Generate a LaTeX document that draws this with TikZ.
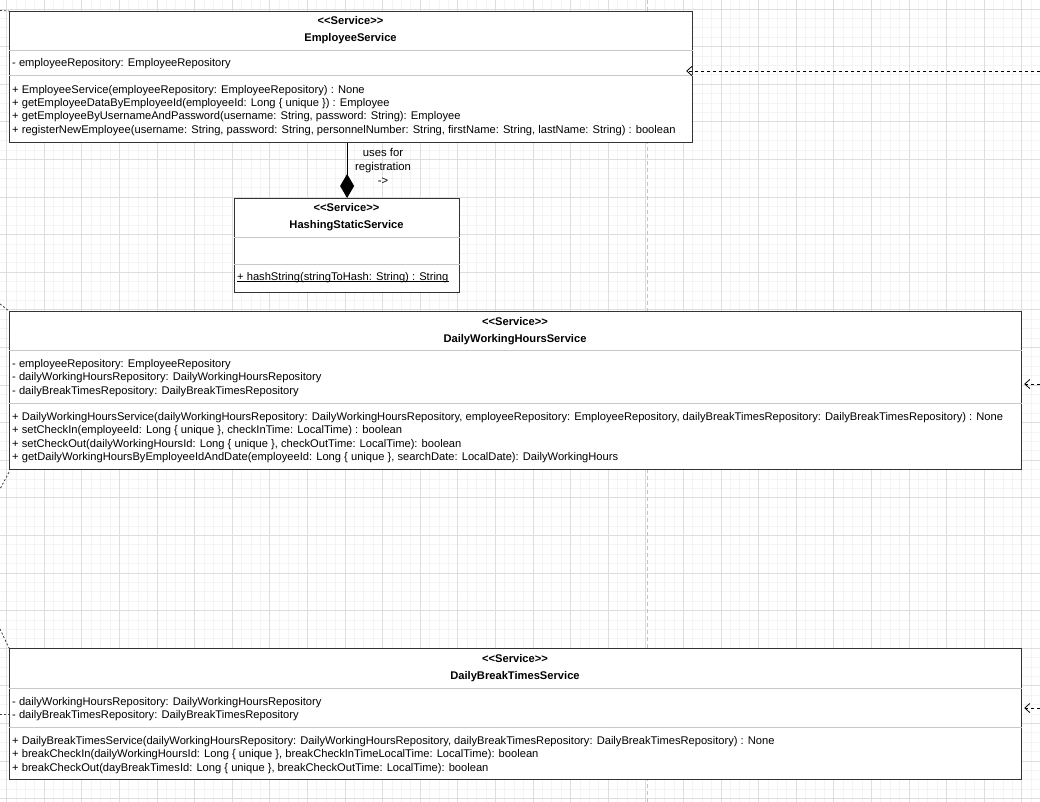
\documentclass[tikz,border=0pt]{standalone}
\usepackage{fontspec}
\setmainfont{Liberation Sans}
\usetikzlibrary{calc, positioning, arrows.meta}

\definecolor{gridmin}{HTML}{F4F4F4}
\definecolor{gridmaj}{HTML}{DEDEDE}
\definecolor{boxline}{HTML}{333333}
\definecolor{sepline}{HTML}{C8C8C8}
\definecolor{pagebrk}{HTML}{C4C4C4}

\newcommand{\stereo}{{<}{<}Service{>}{>}}

\tikzset{
  classbox/.style={draw=boxline, line width=1.2pt, fill=white, inner sep=0pt, anchor=north west},
  sep/.style={draw=sepline, line width=1pt},
  member/.style={anchor=base west, inner sep=0pt, font=\fontsize{11.15}{13}\selectfont},
  title/.style={anchor=base, inner sep=0pt, font=\fontsize{11.15}{13}\selectfont\bfseries},
  dep/.style={dash pattern=on 3pt off 3pt, line width=0.8pt, -{Straight Barb[length=5pt,width=9pt]}},
  stub/.style={dash pattern=on 2pt off 2pt, line width=0.8pt, black!75},
  comp/.style={line width=1pt, {Diamond[length=24pt,width=14pt]}-},
}

\begin{document}
\begin{tikzpicture}[x=1pt,y=-1pt]
\useasboundingbox (0,0) rectangle (1040,802);
\fill[white] (0,0) rectangle (1040,802);

% grid
\foreach \i in {0,...,109} \draw[gridmin,line width=0.7pt] ({6.5+\i*9.4},0) -- ({6.5+\i*9.4},802);
\foreach \i in {1,...,85} \draw[gridmin,line width=0.7pt] (0,{-0.4+\i*9.4}) -- (1040,{-0.4+\i*9.4});
\foreach \i in {0,...,27} \draw[gridmaj,line width=0.8pt] ({6.5+\i*37.6},0) -- ({6.5+\i*37.6},802);
\foreach \i in {0,...,21} \draw[gridmaj,line width=0.8pt] (0,{9+\i*37.6}) -- (1040,{9+\i*37.6});
\draw[pagebrk, line width=1pt, dash pattern=on 4pt off 3pt] (647,0) -- (647,802);

% EmployeeService
\node[classbox, minimum width=683pt, minimum height=131pt] (emp) at (9,11) {};
\draw[sep] (emp.west |- 0,50.5) -- (emp.east |- 0,50.5);
\draw[sep] (emp.west |- 0,76) -- (emp.east |- 0,76);
\node[title] (emp-st) at (350.5,25) {\stereo};
\node[title] (emp-nm) at (350.5,42) {EmployeeService};
\node[member] (emp-a1) at (12,67) {- employeeRepository: EmployeeRepository};
\node[member] (emp-m1) at (12,93.3) {+ EmployeeService(employeeRepository: EmployeeRepository) : None};
\node[member] (emp-m2) at (12,106.6) {+ getEmployeeDataByEmployeeId(employeeId: Long \{ unique \}) : Employee};
\node[member] (emp-m3) at (12,119.9) {+ getEmployeeByUsernameAndPassword(username: String, password: String): Employee};
\node[member] (emp-m4) at (12,133.2) {+ registerNewEmployee(username: String, password: String, personnelNumber: String, firstName: String, lastName: String) : boolean};

% HashingStaticService
\node[classbox, minimum width=225pt, minimum height=94pt] (hash) at (234,198) {};
\draw[sep] (hash.west |- 0,237) -- (hash.east |- 0,237);
\draw[sep] (hash.west |- 0,264) -- (hash.east |- 0,264);
\node[title] (hash-st) at (346.5,212) {\stereo};
\node[title] (hash-nm) at (346.5,229) {HashingStaticService};
\node[member] (hash-m1) at (237,280) {+ hashString(stringToHash: String) : String};
\draw[line width=0.7pt] ([yshift=-1.6pt]hash-m1.base west) -- ([yshift=-1.6pt]hash-m1.base east);

% DailyWorkingHoursService
\node[classbox, minimum width=1012pt, minimum height=158pt] (dwh) at (9,311) {};
\draw[sep] (dwh.west |- 0,350) -- (dwh.east |- 0,350);
\draw[sep] (dwh.west |- 0,403) -- (dwh.east |- 0,403);
\node[title] (dwh-st) at (515,325) {\stereo};
\node[title] (dwh-nm) at (515,342) {DailyWorkingHoursService};
\node[member] (dwh-a1) at (12,367) {- employeeRepository: EmployeeRepository};
\node[member] (dwh-a2) at (12,380.5) {- dailyWorkingHoursRepository: DailyWorkingHoursRepository};
\node[member] (dwh-a3) at (12,394) {- dailyBreakTimesRepository: DailyBreakTimesRepository};
\node[member] (dwh-m1) at (12,420) {+ DailyWorkingHoursService(dailyWorkingHoursRepository: DailyWorkingHoursRepository, employeeRepository: EmployeeRepository, dailyBreakTimesRepository: DailyBreakTimesRepository) : None};
\node[member] (dwh-m2) at (12,433.5) {+ setCheckIn(employeeId: Long \{ unique \}, checkInTime: LocalTime) : boolean};
\node[member] (dwh-m3) at (12,447) {+ setCheckOut(dailyWorkingHoursId: Long \{ unique \}, checkOutTime: LocalTime): boolean};
\node[member] (dwh-m4) at (12,460.5) {+ getDailyWorkingHoursByEmployeeIdAndDate(employeeId: Long \{ unique \}, searchDate: LocalDate): DailyWorkingHours};

% DailyBreakTimesService
\node[classbox, minimum width=1012pt, minimum height=131pt] (dbt) at (9,648) {};
\draw[sep] (dbt.west |- 0,688) -- (dbt.east |- 0,688);
\draw[sep] (dbt.west |- 0,727) -- (dbt.east |- 0,727);
\node[title] (dbt-st) at (515,662) {\stereo};
\node[title] (dbt-nm) at (515,679) {DailyBreakTimesService};
\node[member] (dbt-a1) at (12,705) {- dailyWorkingHoursRepository: DailyWorkingHoursRepository};
\node[member] (dbt-a2) at (12,718.5) {- dailyBreakTimesRepository: DailyBreakTimesRepository};
\node[member] (dbt-m1) at (12,744) {+ DailyBreakTimesService(dailyWorkingHoursRepository: DailyWorkingHoursRepository, dailyBreakTimesRepository: DailyBreakTimesRepository) : None};
\node[member] (dbt-m2) at (12,757.5) {+ breakCheckIn(dailyWorkingHoursId: Long \{ unique \}, breakCheckInTimeLocalTime: LocalTime): boolean};
\node[member] (dbt-m3) at (12,771) {+ breakCheckOut(dayBreakTimesId: Long \{ unique \}, breakCheckOutTime: LocalTime): boolean};

% connectors
\draw[comp] (hash.north) -- (hash.north |- emp.south);
\node[align=center, inner sep=0pt, font=\fontsize{11.3}{14}\selectfont] (uses) at (383,166) {uses for\\registration\\->};

\coordinate (r1) at (1040,71);
\coordinate (r2) at (1040,384);
\coordinate (r3) at (1040,708);
\draw[dep] (r1) -- ([xshift=-7pt]emp.east |- r1);
\draw[dep] (r2) -- ([xshift=2pt]dwh.east |- r2);
\draw[dep] (r3) -- ([xshift=2pt]dbt.east |- r3);

\coordinate (l0) at (0,10.5);
\coordinate (l1) at (0,304);
\coordinate (l2) at (0,489);
\coordinate (l3) at (0,629);
\coordinate (l4) at (0,714);
\draw[stub] (l0) -- (emp.north west);
\draw[stub] (l1) -- (dwh.north west);
\draw[stub] ([yshift=-2pt]dwh.south west) -- (l2);
\draw[stub] (l3) -- (dbt.north west);
\draw[stub] (l4) -- (dbt.west |- l4);
\end{tikzpicture}
\end{document}
